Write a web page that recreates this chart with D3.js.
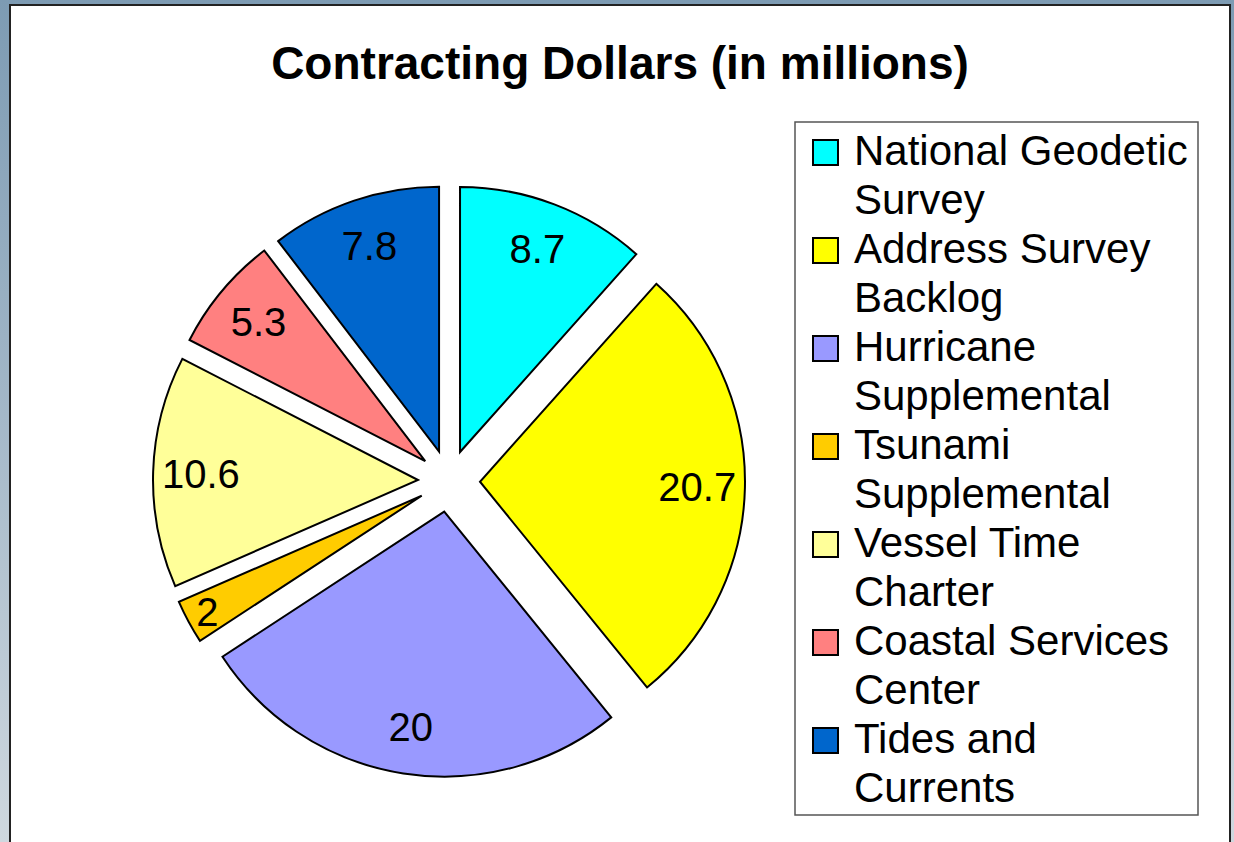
<!DOCTYPE html>
<html>
<head>
<meta charset="utf-8">
<script src="https://cdn.jsdelivr.net/npm/d3@7"></script>
<style>
  html, body { margin: 0; padding: 0; overflow: hidden; }
  body { width: 1234px; height: 842px; }
  text { font-family: "Liberation Sans", Arial, sans-serif; fill: #000; }
</style>
</head>
<body>
<script>
// chart data
var title = "Contracting Dollars (in millions)";
var categories = [
    "National Geodetic Survey",
    "Address Survey Backlog",
    "Hurricane Supplemental",
    "Tsunami Supplemental",
    "Vessel Time Charter",
    "Coastal Services Center",
    "Tides and Currents"
];
// legend text wraps after these words
var legendLines = [
    ["National Geodetic", "Survey"],
    ["Address Survey", "Backlog"],
    ["Hurricane", "Supplemental"],
    ["Tsunami", "Supplemental"],
    ["Vessel Time", "Charter"],
    ["Coastal Services", "Center"],
    ["Tides and", "Currents"]
];
var values = [8.7, 20.7, 20, 2, 10.6, 5.3, 7.8];
var palette = ["#00FFFF", "#FFFF00", "#9999FF", "#FFCC00", "#FFFF99", "#FF8080", "#0066CC"];

var W = 1234, H = 842;
var cx = 449, cy = 481, radius = 265, explode = 31;

var svg = d3.select("body").append("svg")
    .attr("width", W)
    .attr("height", H);

// slide background
var defs = svg.append("defs");
var grad = defs.append("linearGradient")
    .attr("id", "bg")
    .attr("x1", 0).attr("y1", 0).attr("x2", 0).attr("y2", 1);
grad.append("stop").attr("offset", "0%").attr("stop-color", "#7d9bb3");
grad.append("stop").attr("offset", "40%").attr("stop-color", "#9cb2c4");
grad.append("stop").attr("offset", "100%").attr("stop-color", "#cfd8df");

svg.append("rect")
    .attr("width", W).attr("height", H)
    .attr("fill", "url(#bg)");

// white chart panel
svg.append("rect")
    .attr("x", 10).attr("y", 5)
    .attr("width", 1220).attr("height", 860)
    .attr("fill", "#fff")
    .attr("stroke", "#222")
    .attr("stroke-width", 2);

svg.append("text")
    .attr("x", 620)
    .attr("y", 79)
    .attr("text-anchor", "middle")
    .style("font-size", "46px")
    .style("font-weight", "bold")
    .text(title);

var color = d3.scaleOrdinal()
    .domain(categories)
    .range(palette);

var pie = d3.pie()
    .sort(null)
    .value(function (d) { return d.value; });

var arcs = pie(categories.map(function (c, i) { return { name: c, value: values[i] }; }));

var arc = d3.arc()
    .innerRadius(0)
    .outerRadius(radius);

function mid(d) { return (d.startAngle + d.endAngle) / 2; }

var g = svg.append("g")
    .attr("transform", "translate(" + cx + "," + cy + ")");

var slices = g.selectAll("g.slice")
    .data(arcs)
    .enter().append("g")
    .attr("class", "slice")
    .attr("transform", function (d) {
        var a = mid(d);
        return "translate(" + (Math.sin(a) * explode) + "," + (-Math.cos(a) * explode) + ")";
    });

slices.append("path")
    .attr("d", arc)
    .attr("fill", function (d) { return color(d.data.name); })
    .attr("stroke", "#000")
    .attr("stroke-width", 2)
    .attr("stroke-linejoin", "miter");

// data labels, small slices get pushed out a bit
slices.append("text")
    .attr("x", function (d) {
        var k = (d.endAngle - d.startAngle) < 0.2 ? 0.92 : 0.82;
        return Math.sin(mid(d)) * radius * k;
    })
    .attr("y", function (d) {
        var k = (d.endAngle - d.startAngle) < 0.2 ? 0.92 : 0.82;
        return -Math.cos(mid(d)) * radius * k;
    })
    .attr("dy", "0.36em")
    .attr("text-anchor", "middle")
    .style("font-size", "40px")
    .text(function (d) { return d.data.value; });

// legend
var legend = svg.append("g").attr("class", "legend");
legend.append("rect")
    .attr("x", 795).attr("y", 122)
    .attr("width", 403).attr("height", 693)
    .attr("fill", "#fff")
    .attr("stroke", "#555")
    .attr("stroke-width", 1.5);

var lineH = 49;
var items = legend.selectAll("g.item")
    .data(categories)
    .enter().append("g")
    .attr("class", "item")
    .attr("transform", function (d, i) { return "translate(812," + (165 + i * 2 * lineH) + ")"; });

items.append("rect")
    .attr("x", 1).attr("y", -25)
    .attr("width", 25).attr("height", 25)
    .attr("fill", function (d) { return color(d); })
    .attr("stroke", "#000")
    .attr("stroke-width", 2);

items.append("text")
    .attr("x", 42)
    .style("font-size", "42px")
    .selectAll("tspan")
    .data(function (d, i) { return legendLines[i]; })
    .enter().append("tspan")
    .attr("x", 42)
    .attr("y", function (d, j) { return j * lineH; })
    .text(function (d) { return d; });
</script>
</body>
</html>
